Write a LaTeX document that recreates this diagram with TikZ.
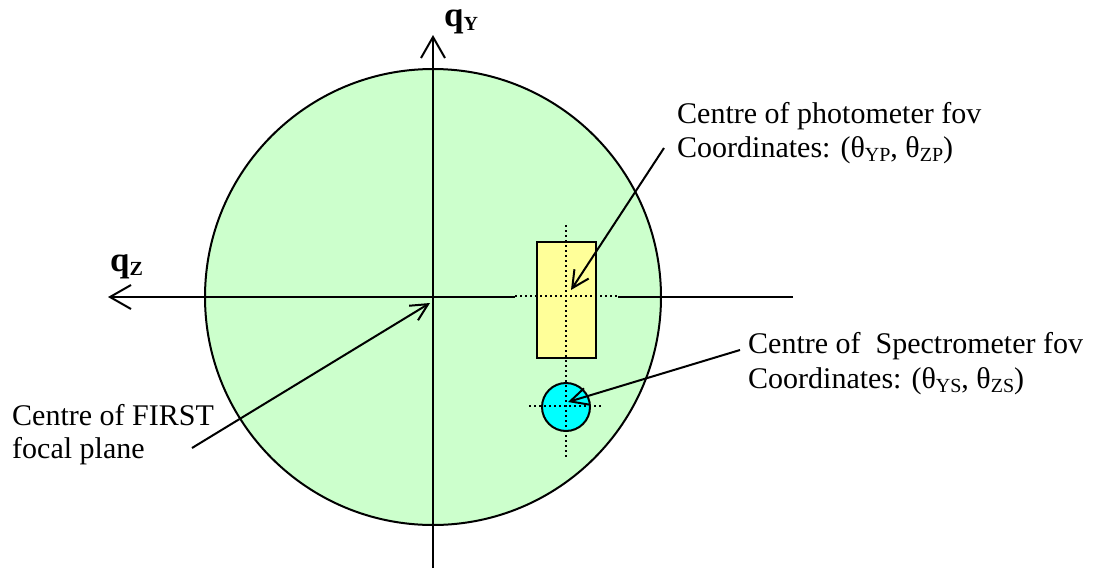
\documentclass[tikz,border=0pt]{standalone}
\usepackage{fontspec}
\setmainfont{Liberation Serif}
\usetikzlibrary{arrows.meta}
\definecolor{fovgreen}{HTML}{CCFFCC}
\definecolor{photoyellow}{HTML}{FFFF99}
\definecolor{speccyan}{HTML}{00FFFF}
\newcommand{\sbs}[1]{\raisebox{-0.3ex}{\fontsize{20}{20}\selectfont #1}}
\begin{document}
\begin{tikzpicture}[x=1pt,y=-1pt,
  outline/.style={line width=2pt},
  axisarrow/.style={line width=2pt,-{Straight Barb[length=21pt,width=24pt]}},
  axisline/.style={line width=2pt},
  pointer/.style={line width=2pt,-{Straight Barb[length=17pt,width=17pt]}},
  guide/.style={line width=2pt,dash pattern=on 2pt off 3pt},
  lbl/.style={font=\fontsize{30}{33}\selectfont,inner sep=0pt,anchor=base west},
  axlbl/.style={font=\fontsize{35}{38}\selectfont\bfseries,inner sep=0pt,anchor=base west}]
\useasboundingbox (0,0) rectangle (1093,568);
% field of view
\path[fill=fovgreen,draw,outline] (433,297) circle (228);
% axes
\coordinate (ybot) at (433,568);
\coordinate (ytop) at (433,35);
\coordinate (xright) at (793,297);
\coordinate (xgapr) at (618,297);
\coordinate (xgapl) at (515,297);
\coordinate (xleft) at (108,297);
\draw[axisarrow] (ybot) -- (ytop);
\draw[axisline] (xright) -- (xgapr);
\draw[axisarrow] (xgapl) -- (xleft);
% photometer
\node[draw,fill=photoyellow,outline,minimum width=59pt,minimum height=116pt,inner sep=0pt] (phot) at (566.5,300) {};
% spectrometer
\node[circle,draw,fill=speccyan,outline,minimum size=48pt,inner sep=0pt] (spec) at (566,407) {};
% guides
\coordinate (gvt) at (566,225);
\coordinate (gvb) at (566,458);
\coordinate (gpl) at (515,296);
\coordinate (gpr) at (618,296);
\coordinate (gsl) at (529,406);
\coordinate (gsr) at (603,406);
\draw[guide] (gvt) -- (gvb);
\draw[guide] (gpl) -- (gpr);
\draw[guide] (gsl) -- (gsr);
% axis labels
\node[axlbl] (qy) at (444,26) {q\sbs{Y}};
\node[axlbl] (qz) at (110,271) {q\sbs{Z}};
% text labels
\node[lbl] (pt1) at (677,123) {Centre of photometer fov};
\node[lbl] (pt2) at (677,157) {Coordinates: (θ\sbs{YP}, θ\sbs{ZP})};
\node[lbl] (st1) at (748,353) {Centre of\ \ Spectrometer fov};
\node[lbl] (st2) at (748,388) {Coordinates: (θ\sbs{YS}, θ\sbs{ZS})};
\node[lbl] (ft1) at (12,425) {Centre of FIRST};
\node[lbl] (ft2) at (12,458) {focal plane};
% pointers
\coordinate (phottail) at (664,148);
\coordinate (phothead) at (571,290);
\coordinate (spectail) at (740,350);
\coordinate (spechead) at (568,402);
\coordinate (firsttail) at (192,448);
\coordinate (firsthead) at (430,303);
\draw[pointer] (phottail) -- (phothead);
\draw[pointer] (spectail) -- (spechead);
\draw[pointer] (firsttail) -- (firsthead);
\end{tikzpicture}
\end{document}
